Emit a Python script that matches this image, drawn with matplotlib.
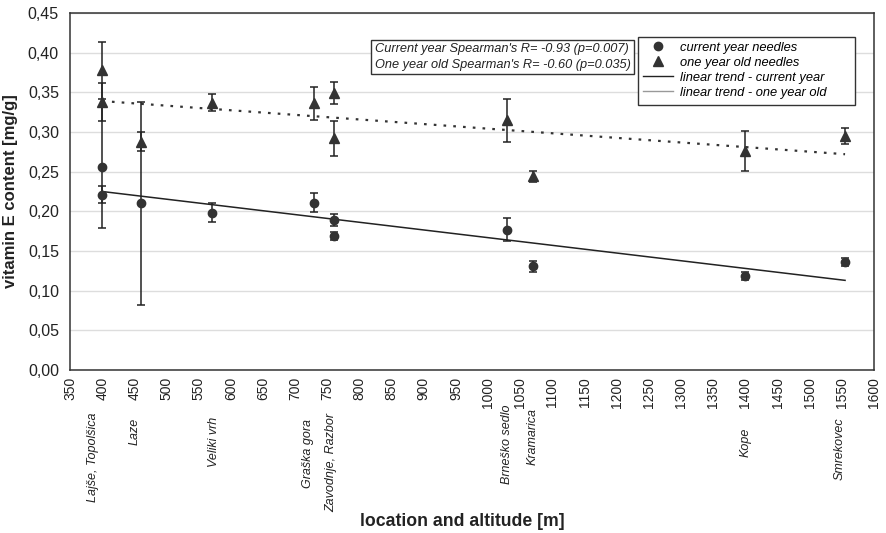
import matplotlib
matplotlib.use("Agg")
import matplotlib.pyplot as plt
from matplotlib.ticker import FuncFormatter, MultipleLocator
from matplotlib.lines import Line2D
from matplotlib.patches import Rectangle

plt.rcParams['font.family'] = ['Liberation Sans', 'DejaVu Sans']

# ---- data ----
altitude = [400, 400, 460, 570, 730, 760, 760, 1030, 1070, 1400, 1555]
current_year = [0.256, 0.221, 0.210, 0.198, 0.211, 0.189, 0.169, 0.177, 0.131, 0.118, 0.136]
current_err = [0.077, 0.011, 0.128, 0.012, 0.012, 0.008, 0.005, 0.015, 0.007, 0.005, 0.005]
one_year_old = [0.378, 0.338, 0.288, 0.337, 0.336, 0.349, 0.292, 0.315, 0.244, 0.276, 0.295]
one_year_err = [0.036, 0.024, 0.012, 0.011, 0.021, 0.014, 0.022, 0.027, 0.007, 0.025, 0.010]

trend_x = [400, 1555]
trend_current = [0.225, 0.113]
trend_old = [0.339, 0.272]

locations = ["Lajše, Topolšica", "Laze", "Veliki vrh", "Graška gora", "Zavodnje, Razbor",
             "Brneško sedlo", "Kramarica", "Kope", "Smrekovec"]
location_alt = [400, 460, 570, 730, 760, 1030, 1070, 1400, 1555]

stats_text = ["Current year Spearman's R= -0.93 (p=0.007)",
              "One year old Spearman's R= -0.60 (p=0.035)"]
legend_labels = ["current year needles", "one year old needles",
                 "linear trend - current year", "linear trend - one year old"]

# ---- layout ----
W, H = 886, 533
fig = plt.figure(figsize=(W / 100, H / 100), dpi=100)
ax = fig.add_axes([70 / W, 1 - 370 / H, (874 - 70) / W, (370 - 13) / H])

ax.set_xlim(350, 1600)
ax.set_ylim(0, 0.45)
ax.yaxis.set_major_locator(MultipleLocator(0.05))
ax.xaxis.set_major_locator(MultipleLocator(50))
ax.yaxis.set_major_formatter(FuncFormatter(lambda v, p: f"{v:.2f}".replace('.', ',')))
ax.grid(axis='y', color='#dddddd', linewidth=1.0)
ax.set_axisbelow(True)
ax.tick_params(axis='both', length=0)
ax.tick_params(axis='x', labelsize=10, rotation=90, pad=5, colors='#222222')
ax.tick_params(axis='y', labelsize=11.5, pad=8, colors='#222222')
for s in ax.spines.values():
    s.set_color('#333333')
    s.set_linewidth(1.1)

mk = '#333333'
# trend lines
ax.plot(trend_x, trend_current, color='#222222', lw=1.1, zorder=2)
ax.plot(trend_x, trend_old, color='#333333', lw=1.6, ls=(0, (1.2, 3.2)), zorder=2)

# error bars and markers
ax.errorbar(altitude, one_year_old, yerr=one_year_err, fmt='^', color=mk, ms=6.5,
            ecolor='#222222', elinewidth=1.1, capsize=3, capthick=1.1, zorder=3)
ax.errorbar(altitude, current_year, yerr=current_err, fmt='o', color=mk, ms=6,
            ecolor='#222222', elinewidth=1.1, capsize=3, capthick=1.1, zorder=3)

# location labels under the axis
label_dx = [-9, -6, 2, -6, -2, 0, 0, 0, -5]
label_top = [413, 418, 417, 419, 413, 405, 408, 428, 417]
for name, alt, dx, top in zip(locations, location_alt, label_dx, label_top):
    ax.annotate(name, xy=(alt, H - top), xycoords=('data', 'figure pixels'),
                xytext=(dx, 0), textcoords='offset pixels', rotation=90,
                ha='center', va='top', fontsize=9, style='italic', color='#222222',
                annotation_clip=False)

ax.set_ylabel("vitamin E content [mg/g]", fontsize=12, fontweight='bold', color='#222222')
ax.yaxis.set_label_coords(-52 / (874 - 70), 0.5)
fig.text(462 / W, 1 - 521 / H, "location and altitude [m]", fontsize=12.7,
         fontweight='bold', ha='center', va='center', color='#222222')

# statistics box
fig.text(375 / W, 1 - 57 / H, "\n".join(stats_text), fontsize=9.2, style='italic',
         ha='left', va='center', linespacing=1.35, color='#222222',
         bbox=dict(boxstyle='square,pad=0.28', fc='white', ec='#333333', lw=1.0))

# legend (frame drawn separately to match the wide box)
fig.add_artist(Rectangle((638 / W, 1 - 105 / H), (855 - 638) / W, (105 - 37) / H,
                         transform=fig.transFigure, fc='white', ec='#333333', lw=1.0,
                         zorder=4))
handles = [
    Line2D([], [], marker='o', ls='none', color=mk, ms=6),
    Line2D([], [], marker='^', ls='none', color=mk, ms=6.5),
    Line2D([], [], color='#222222', lw=1.0),
    Line2D([], [], color='#999999', lw=1.0),
]
leg = fig.legend(handles, legend_labels, loc='upper left',
                 bbox_to_anchor=(639 / W, 1 - 38 / H),
                 prop={'style': 'italic', 'size': 9.3}, frameon=False,
                 borderaxespad=0, handlelength=2.3, handletextpad=0.55,
                 labelspacing=0.22, borderpad=0.3)
leg.set_zorder(5)

fig.savefig("out.png", dpi=100)
